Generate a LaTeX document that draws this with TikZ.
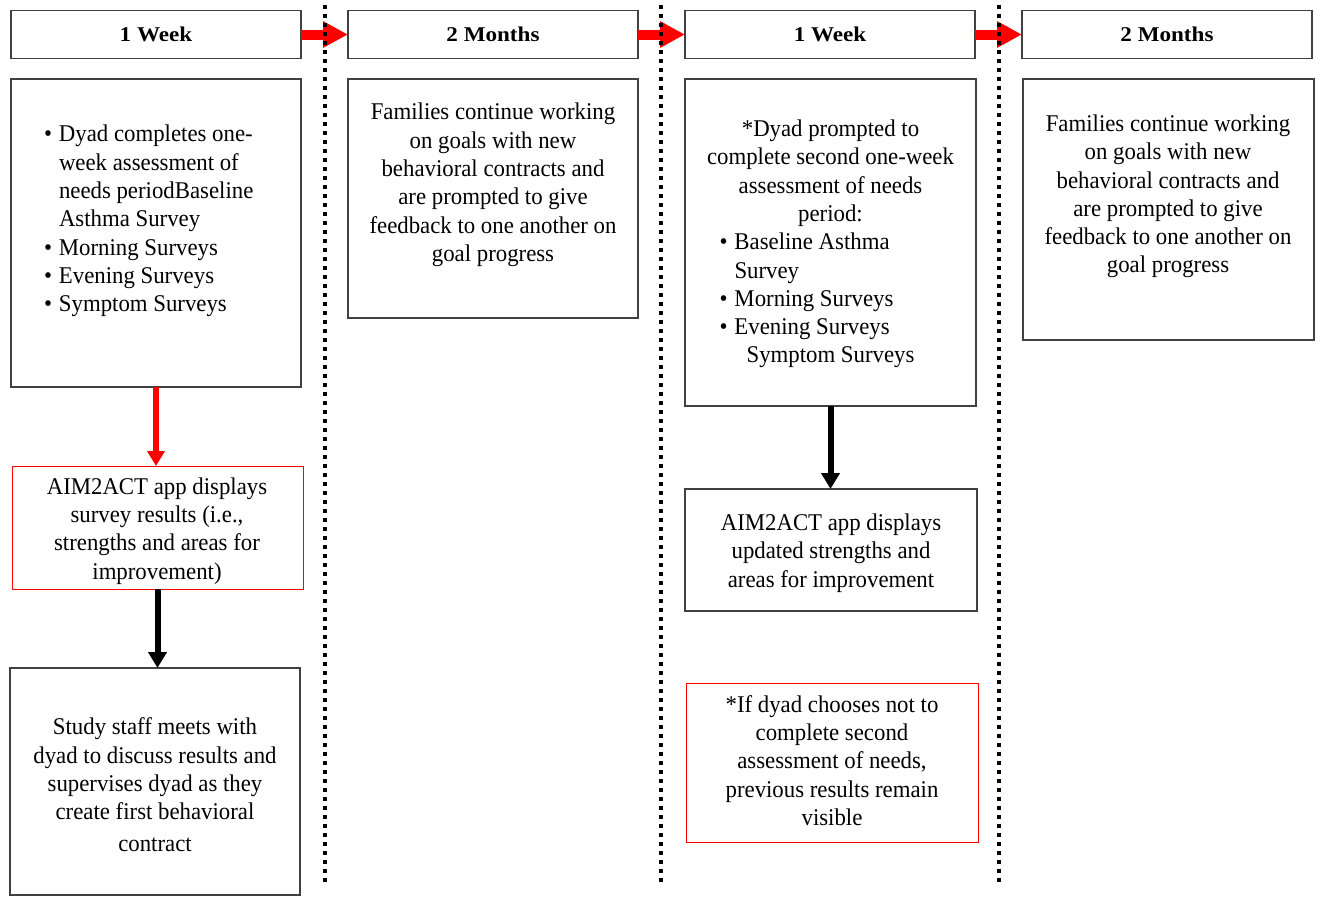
\documentclass[tikz,border=0pt]{standalone}
\usepackage{fontspec}
\setmainfont{Liberation Serif}[FakeStretch=0.95]
\newfontfamily\headfont{Liberation Serif}[FakeStretch=1.1]
\usetikzlibrary{positioning,arrows.meta}
\definecolor{mygray}{RGB}{64,64,64}
\definecolor{myred}{RGB}{255,0,0}
\newcommand\itm{\makebox[15pt][l]{\textbullet}}
\newcommand\ind{\hspace*{15pt}}
\newcommand\lbox[1]{\makebox[222pt][l]{#1}}
\begin{document}
\begin{tikzpicture}[x=1pt,y=-1pt,node distance=47pt,outer sep=0pt,
		headb/.style={
		  draw=mygray,
		  line width=1.4pt,
		  minimum width=290pt,
		  minimum height=48pt,
		  font={\headfont\fontsize{21}{25}\selectfont\bfseries}},
		stepb/.style={draw=mygray,line width=1.2pt},
		redb/.style={draw=myred,line width=1pt},
		txt/.style={align=center,inner sep=0pt,font={\fontsize{24}{28.3}\selectfont}},
		hdarrow/.style={myred,line width=10pt,-{Triangle[length=25pt,width=25pt]}},
		redarrow/.style={myred,line width=5.5pt,-{Triangle[length=15pt,width=17pt]}},
		blackarrow/.style={black,line width=6pt,-{Triangle[length=16pt,width=18pt]}},
		divider/.style={line width=4pt,dash pattern=on 4pt off 5pt},
		]
		\useasboundingbox (0,0) rectangle (1321,897);
		\node[headb] (W1) at (156,34.5) {1 Week};
		\node[headb,right=of W1] (M1) {2 Months};
		\node[headb,right=of M1] (W2) {1 Week};
		\node[headb,right=of W2] (M2) {2 Months};
		\draw[hdarrow] (W1.east) -- (M1.west);
		\draw[hdarrow] (M1.east) -- (W2.west);
		\draw[hdarrow] (W2.east) -- (M2.west);
		\foreach \x in {325,661,999}
		  \draw[divider] (\x,5) -- (\x,885);
		\node[stepb,minimum width=290pt,minimum height=308pt] (Dya) at (156,233) {};
		\node[txt,align=left,anchor=west] (DyaT) at (44,221) {\itm Dyad completes one-\\ \ind week assessment of\\ \ind needs periodBaseline\\ \ind Asthma Survey\\ \itm Morning Surveys\\ \itm Evening Surveys\\ \itm Symptom Surveys};
		\node[redb,minimum width=291pt,minimum height=123pt] (App) at (157.5,527.5) {};
		\node[txt] (AppT) at (157,531) {AIM2ACT app displays\\ survey results (i.e.,\\ strengths and areas for\\ improvement)};
		\node[stepb,minimum width=290pt,minimum height=227pt] (Sta) at (155,781.5) {};
		\node[txt] (StaT) at (155,785) {Study staff meets with\\ dyad to discuss results and\\ supervises dyad as they\\ create first behavioral\\[4pt] contract};
		\draw[redarrow] (Dya.south) -- (Dya.south |- App.north);
		\draw[blackarrow] (App.south) -- (App.south |- Sta.north);
		\node[stepb,minimum width=290pt,minimum height=239pt] (Fam) at (493,198.5) {};
		\node[txt] (FamT) at (493,185) {Families continue working\\ on goals with new\\ behavioral contracts and\\ are prompted to give\\ feedback to one another on\\ goal progress};
		\node[stepb,minimum width=291pt,minimum height=327pt] (Sec) at (830.5,242.5) {};
		\node[txt] (SecT) at (830.5,244) {*Dyad prompted to\\ complete second one-week\\ assessment of needs\\ period:\\ \lbox{\itm Baseline Asthma}\\ \lbox{\ind Survey}\\ \lbox{\itm Morning Surveys}\\ \lbox{\itm Evening Surveys}\\ Symptom Surveys};
		\node[stepb,minimum width=292pt,minimum height=122pt] (Upd) at (831,550) {};
		\node[txt] (UpdT) at (831,553) {AIM2ACT app displays\\ updated strengths and\\ areas for improvement};
		\draw[blackarrow] (Sec.south) -- (Sec.south |- Upd.north);
		\node[redb,minimum width=292pt,minimum height=159pt] (Skp) at (832,762.5) {};
		\node[txt] (SkpT) at (832,760.5) {*If dyad chooses not to\\ complete second\\ assessment of needs,\\ previous results remain\\ visible};
		\node[stepb,minimum width=291pt,minimum height=261pt] (Fam2) at (1168.5,209.5) {};
		\node[txt] (Fam2T) at (1168,196.5) {Families continue working\\ on goals with new\\ behavioral contracts and\\ are prompted to give\\ feedback to one another on\\ goal progress};
\end{tikzpicture}
\end{document}
